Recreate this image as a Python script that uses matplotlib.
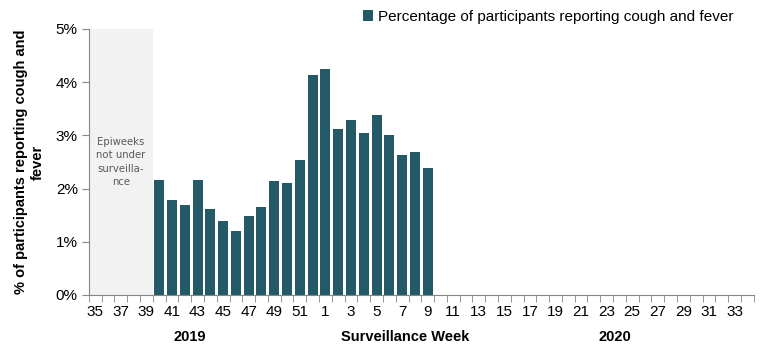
import numpy as np
import matplotlib.pyplot as plt

plt.rcParams['font.family'] = ['Liberation Sans', 'DejaVu Sans']

weeks = list(range(35, 53)) + list(range(1, 35))
week_labels = [str(w) if i % 2 == 0 else '' for i, w in enumerate(weeks)]
# percentage of participants reporting cough and fever, weeks 40 (2019) .. 9 (2020)
bar_weeks = list(range(40, 53)) + list(range(1, 10))
pct = [2.16, 1.79, 1.69, 2.16, 1.62, 1.39, 1.20, 1.48, 1.65, 2.14, 2.11, 2.54,
       4.14, 4.25, 3.12, 3.29, 3.05, 3.38, 3.01, 2.63, 2.69, 2.39]
n_unsurveilled = 5

bar_color = '#245a68'
x = np.arange(len(weeks))
bar_x = [weeks.index(w) if i < 13 else 18 + w - 1 for i, w in enumerate(bar_weeks)]

fig = plt.figure(figsize=(7.73, 3.49), dpi=100)
ax = fig.add_axes([0.115, 0.155, 0.86, 0.762])

ax.axvspan(-0.5, n_unsurveilled - 0.5, color='#f2f2f2', zorder=0, lw=0)
ax.text((n_unsurveilled - 1) / 2, 2.5, 'Epiweeks\nnot under\nsurveilla-\nnce',
        ha='center', va='center', fontsize=7.3, color='#595959',
        family=['DejaVu Sans'], linespacing=1.45)

ax.bar(bar_x, pct, width=0.78, color=bar_color, zorder=2,
       label='Percentage of participants reporting cough and fever')

ax.set_xlim(-0.5, len(weeks) - 0.5)
ax.set_ylim(0, 5)
ax.set_yticks(range(6))
ax.set_yticklabels([f'{v}%' for v in range(6)])
ax.set_xticks(x)
ax.set_xticklabels(week_labels)
ax.set_xticks(np.arange(-0.5, len(weeks)), minor=True)
ax.tick_params(axis='x', which='major', length=0, pad=7, labelsize=11)
ax.tick_params(axis='x', which='minor', length=5, color='#868686', direction='out')
ax.tick_params(axis='y', length=5, color='#868686', labelsize=11, pad=3)

for s in ['top', 'right']:
    ax.spines[s].set_visible(False)
for s in ['left', 'bottom']:
    ax.spines[s].set_color('#868686')

ax.set_ylabel('% of participants reporting cough and\nfever', fontsize=10.5,
              fontweight='bold', labelpad=8)

fig.text(190 / 773, 1 - 337 / 349, '2019', ha='center', va='center',
         fontsize=10.5, fontweight='bold')
fig.text(405 / 773, 1 - 337 / 349, 'Surveillance Week', ha='center', va='center',
         fontsize=10.5, fontweight='bold')
fig.text(615 / 773, 1 - 337 / 349, '2020', ha='center', va='center',
         fontsize=10.5, fontweight='bold')

fig.legend(loc='center right', bbox_to_anchor=(741 / 773, 1 - 17 / 349),
           frameon=False, fontsize=11, handlelength=0.7, handleheight=0.7,
           handletextpad=0.3, borderpad=0)

fig.savefig('out.png', dpi=100)
